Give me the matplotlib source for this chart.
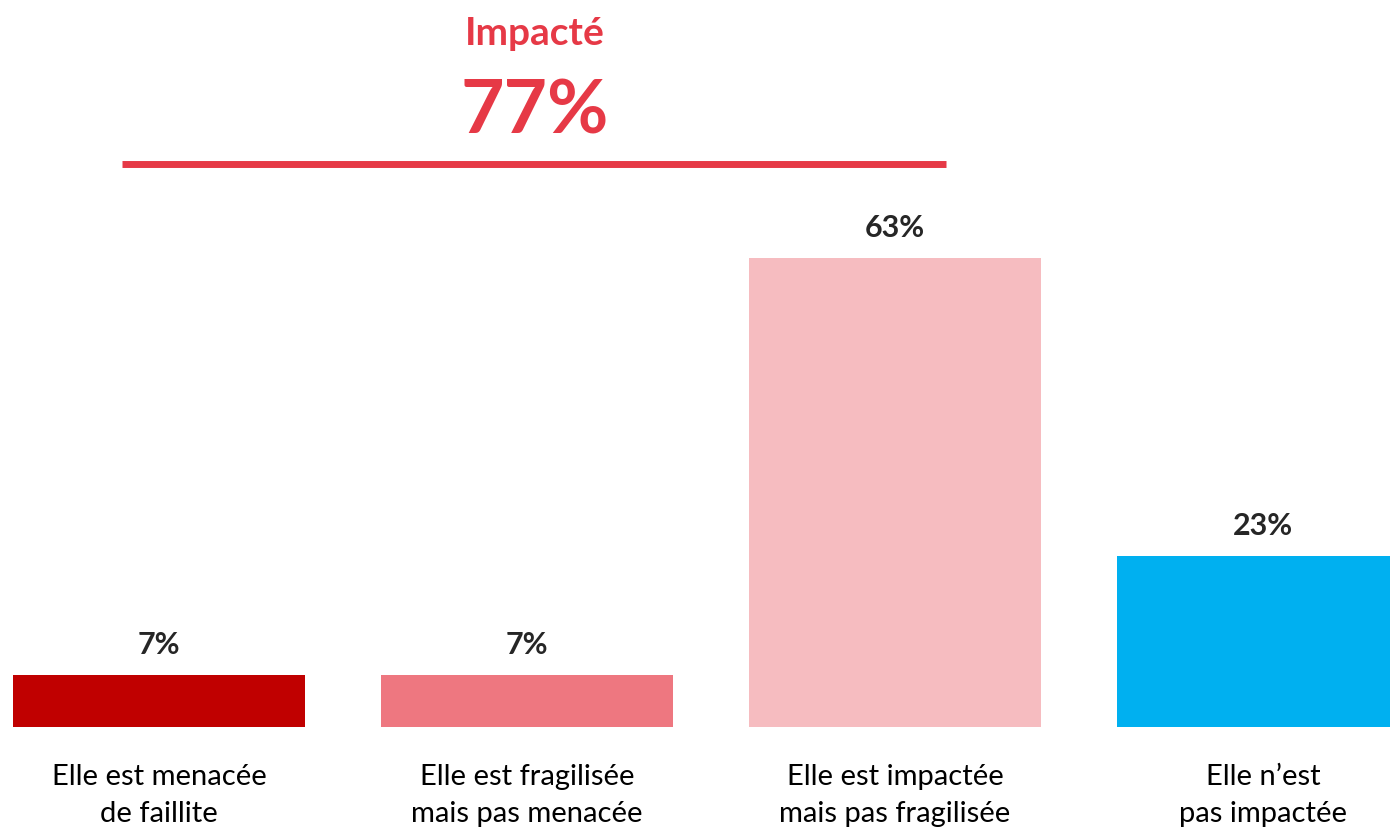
import numpy as np
import matplotlib.pyplot as plt

plt.rcParams['font.family'] = ['Lato', 'DejaVu Sans']

categories = ["Elle est menacée\nde faillite",
              "Elle est fragilisée\nmais pas menacée",
              "Elle est impactée\nmais pas fragilisée",
              "Elle n\u2019est\npas impactée"]
values = [7, 7, 63, 23]
colors = ['#C00000', '#EE7780', '#F6BCC0', '#00B0F0']
impact_label = "Impacté"
impact_total = 77

fig = plt.figure(figsize=(13.9, 8.29), dpi=100)
ax = fig.add_axes([0, 101 / 829, 1, 728 / 829])

x = np.arange(len(values))
ax.bar(x, values, width=0.795, color=colors)
ax.set_xlim(-0.432, 3.345)
ax.set_ylim(0, 97.8)
ax.axis('off')

for xi, v in zip(x, values):
    ax.annotate(f"{v}%", (xi, v), xytext=(0, 12), textcoords='offset points',
                ha='center', va='bottom', fontsize=22, fontweight='bold', color='#262626')
    ax.text(xi, -4.9, categories[xi], ha='center', va='top', fontsize=21,
            color='black', linespacing=1.48, clip_on=False)

# bracket for "impacted" group
red = '#E63946'
ax.plot([-0.10, 2.139], [75.6, 75.6], color=red, lw=5, solid_capstyle='butt', clip_on=False)
ax.text(1.02, 93.3, impact_label, ha='center', va='center', fontsize=28,
        fontweight='bold', color=red, clip_on=False)
ax.text(1.02, 82.8, f"{impact_total}%", ha='center', va='center', fontsize=54,
        fontweight='bold', color=red, clip_on=False)

plt.savefig('out.png', format='png')
